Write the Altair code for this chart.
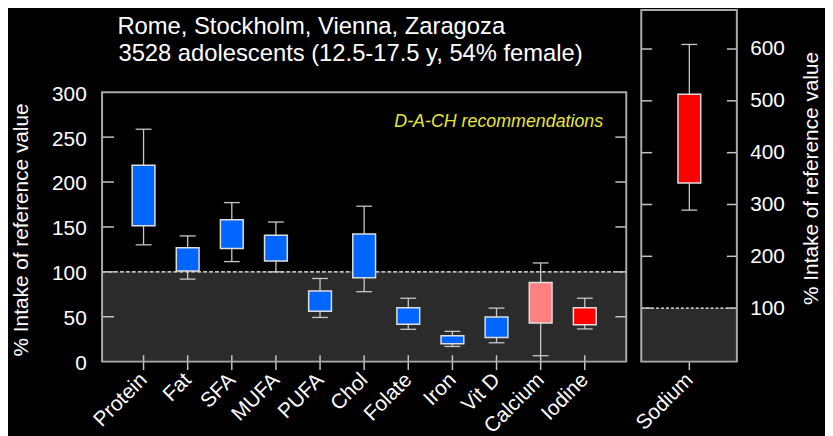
import altair as alt
import pandas as pd

FONT = "Liberation Sans"

# ---------------- data ----------------
categories = ["Protein", "Fat", "SFA", "MUFA", "PUFA", "Chol", "Folate",
              "Iron", "Vit D", "Calcium", "Iodine"]
whisker_low = [130.1, 91.9, 111.4, 100.0, 49.2, 77.9, 36.0, 16.9, 21.0, 6.6, 36.4]
box_low = [151.4, 101.0, 126.1, 112.1, 56.2, 93.3, 41.5, 19.9, 26.8, 43.0, 41.1]
box_high = [218.7, 126.8, 158.0, 140.8, 78.6, 142.2, 59.9, 28.7, 49.6, 88.2, 59.9]
whisker_high = [258.8, 140.0, 177.1, 155.5, 92.6, 173.1, 70.6, 33.7, 59.6, 109.9, 70.6]
box_group = ["A"] * 9 + ["B", "C"]

sodium_category = ["Sodium"]
sodium_low = [289.1]
sodium_q1 = [341.3]
sodium_q3 = [512.7]
sodium_high = [608.8]
sodium_group = ["C"]

main_tick_values = [50, 100, 150, 200, 250]
main_axis_values = [0, 50, 100, 150, 200, 250, 300]
sodium_axis_values = [100, 200, 300, 400, 500, 600]
reference_level = [100]

title_lines = ["Rome, Stockholm, Vienna, Zaragoza",
               "3528 adolescents (12.5-17.5 y, 54% female)"]
annotation = ["D-A-CH recommendations"]
axis_title = "% Intake of reference value"

# ---------------- layout ----------------
PLOT_W, PLOT_H = 651, 355
X_DOMAIN = [0.06, 14.447]
MAIN_X0, MAIN_X1 = 0.06, 11.94
SOD_X0, SOD_X1 = 12.28, 14.447
SOD_POS = 13.37
MAIN_TOP = 300
MAIN_Y_DOMAIN = [0, 391.5]
SOD_Y_DOMAIN = [-3.2, 675.1]
LABEL_SIZE = 21

BLUE, PINK, RED = "#0066ff", "#ff8080", "#ff0000"
GREY_BG = "#2b2b2b"
FRAME = "#aaaaaa"
TICK = "#c4c4c4"
WHISK = "#c8c8c8"
BOX_STROKE = "#dedede"

xs = alt.Scale(domain=X_DOMAIN, nice=False, zero=False)
ys_m = alt.Scale(domain=MAIN_Y_DOMAIN, nice=False, zero=False)
ys_s = alt.Scale(domain=SOD_Y_DOMAIN, nice=False, zero=False)
color_scale = alt.Scale(domain=["A", "B", "C"], range=[BLUE, PINK, RED])

main_df = pd.DataFrame({
    "category": categories,
    "pos": list(range(1, len(categories) + 1)),
    "lo": whisker_low, "q1": box_low, "q3": box_high, "hi": whisker_high,
    "group": box_group,
})
sod_df = pd.DataFrame({
    "category": sodium_category, "pos": [SOD_POS],
    "lo": sodium_low, "q1": sodium_q1, "q3": sodium_q3, "hi": sodium_high,
    "group": sodium_group,
})
ref_df = pd.DataFrame({"ref": reference_level})
all_names = categories + sodium_category
all_pos = list(main_df["pos"]) + [SOD_POS]
xt_df = pd.DataFrame({"category": all_names, "pos": all_pos})

label_expr = "''"
for p, n in reversed(list(zip(all_pos, all_names))):
    label_expr = f"datum.value == {p} ? '{n}' : ({label_expr})"

left_axis = alt.Axis(
    values=main_axis_values, orient="left", ticks=False, tickSize=0, domain=False,
    grid=False, labelFont=FONT, labelFontSize=LABEL_SIZE, labelColor="white",
    labelPadding=11, labelOffset=2,
    title=axis_title, titleFont=FONT, titleFontSize=LABEL_SIZE, titleFontWeight="normal",
    titleColor="white", titleAngle=270, titleBaseline="middle", titleAlign="center",
    titleX=-76, titleY=221.5)
right_axis = alt.Axis(
    values=sodium_axis_values, orient="right", ticks=False, tickSize=0, domain=False,
    grid=False, labelFont=FONT, labelFontSize=LABEL_SIZE, labelColor="white", labelPadding=8,
    title=axis_title, titleFont=FONT, titleFontSize=LABEL_SIZE, titleFontWeight="normal",
    titleColor="white", titleAngle=270, titleBaseline="middle", titleAlign="center",
    titleX=70, titleY=169.5)
x_axis = alt.Axis(
    values=all_pos, labelExpr=label_expr, orient="bottom", ticks=False, tickSize=0,
    domain=False, grid=False, labelAngle=315, labelAlign="right", labelBaseline="middle",
    labelPadding=15, labelFont=FONT, labelFontSize=LABEL_SIZE, labelColor="white",
    labelOverlap=False, labelBound=False, labelFlush=False, title="")


def yaxis_for(ys):
    return left_axis if ys is ys_m else right_axis


def XF(field):
    return alt.X(field, scale=xs, axis=x_axis)


def XD(v):
    return alt.XDatum(v, scale=xs, axis=x_axis)


def YF(field, ys):
    return alt.Y(field, scale=ys, axis=yaxis_for(ys))


def YD(v, ys):
    return alt.YDatum(v, scale=ys, axis=yaxis_for(ys))


def box_layers(df, ys):
    base = alt.Chart(df)
    w_lo = base.mark_rule(color=WHISK, strokeWidth=1.3).encode(
        x=XF("pos:Q"), y=YF("lo:Q", ys), y2="q1:Q")
    w_hi = base.mark_rule(color=WHISK, strokeWidth=1.3).encode(
        x=XF("pos:Q"), y=YF("q3:Q", ys), y2="hi:Q")
    c_lo = base.mark_rule(color=WHISK, strokeWidth=1.3, xOffset=-8, x2Offset=8).encode(
        x=XF("pos:Q"), x2="pos:Q", y=YF("lo:Q", ys))
    c_hi = base.mark_rule(color=WHISK, strokeWidth=1.3, xOffset=-8, x2Offset=8).encode(
        x=XF("pos:Q"), x2="pos:Q", y=YF("hi:Q", ys))
    box = base.mark_bar(width=23, stroke=BOX_STROKE, strokeWidth=1.5).encode(
        x=XF("pos:Q"), y=YF("q1:Q", ys), y2="q3:Q",
        color=alt.Color("group:N", scale=color_scale, legend=None))
    return [w_lo, w_hi, c_lo, c_hi, box]


def panel_bg(x0, x1, ys, y0):
    return alt.Chart(ref_df).mark_rect(color=GREY_BG).encode(
        x=XD(x0), x2=alt.X2Datum(x1), y=YF("ref:Q", ys), y2=alt.Y2Datum(y0))


def panel_dash(x0, x1, ys, dash):
    return alt.Chart(ref_df).mark_rule(color="white", strokeWidth=1.2, strokeDash=dash).encode(
        x=XD(x0), x2=alt.X2Datum(x1), y=YF("ref:Q", ys))


def panel_frame(x0, x1, ys, y0, y1):
    return alt.Chart(ref_df).mark_rect(fill="transparent", stroke=FRAME, strokeWidth=2).encode(
        x=XD(x0), x2=alt.X2Datum(x1), y=YD(y0, ys), y2=alt.Y2Datum(y1))


def side_ticks(values, x_edge, ys, inward):
    df = pd.DataFrame({"tick": values})
    props = {"x2Offset": inward} if inward > 0 else {"xOffset": inward}
    return alt.Chart(df).mark_rule(color=TICK, strokeWidth=1.5, **props).encode(
        x=XD(x_edge), x2=alt.X2Datum(x_edge), y=YF("tick:Q", ys))


x_ticks = alt.Chart(xt_df).mark_rule(color=TICK, strokeWidth=1.5, yOffset=-6.5, y2Offset=8.5).encode(
    x=XF("pos:Q"), y=YD(0, ys_m), y2=alt.Y2Datum(0))

dach = alt.Chart(pd.DataFrame({"t": annotation})).mark_text(
    align="right", baseline="middle", font=FONT, fontSize=18, fontStyle="italic",
    color="#e6e63c").encode(text="t:N", x=alt.value(511), y=alt.value(113))

t1 = alt.Chart(pd.DataFrame({"t": title_lines[:1]})).mark_text(
    align="left", baseline="alphabetic", font=FONT, fontSize=24, color="white").encode(
    text="t:N", x=alt.value(20.5), y=alt.value(24))
t2 = alt.Chart(pd.DataFrame({"t": title_lines[1:]})).mark_text(
    align="left", baseline="alphabetic", font=FONT, fontSize=24, color="white").encode(
    text="t:N", x=alt.value(21.5), y=alt.value(51))

main_layer = alt.layer(
    panel_bg(MAIN_X0, MAIN_X1, ys_m, 0),
    panel_dash(MAIN_X0, MAIN_X1, ys_m, [4, 2]),
    *box_layers(main_df, ys_m),
    side_ticks(main_tick_values, MAIN_X0, ys_m, 12),
    side_ticks(main_tick_values, MAIN_X1, ys_m, -11),
    x_ticks,
    panel_frame(MAIN_X0, MAIN_X1, ys_m, 0, MAIN_TOP),
    dach, t1, t2,
)

sod_layer = alt.layer(
    panel_bg(SOD_X0, SOD_X1, ys_s, SOD_Y_DOMAIN[0]),
    panel_dash(SOD_X0, SOD_X1, ys_s, [3, 2]),
    *box_layers(sod_df, ys_s),
    side_ticks(sodium_axis_values, SOD_X0, ys_s, 11),
    side_ticks(sodium_axis_values, SOD_X1, ys_s, -10),
    panel_frame(SOD_X0, SOD_X1, ys_s, SOD_Y_DOMAIN[0], SOD_Y_DOMAIN[1]),
)

chart = alt.layer(main_layer, sod_layer).resolve_scale(y="independent").properties(
    width=PLOT_W, height=PLOT_H, background="black",
    padding={"left": 90, "top": 0, "right": 84, "bottom": 73},
    autosize=alt.AutoSizeParams(type="none"),
).configure_view(stroke=None)

chart.save("out.html", embed_options={"renderer": "svg", "actions": False})
